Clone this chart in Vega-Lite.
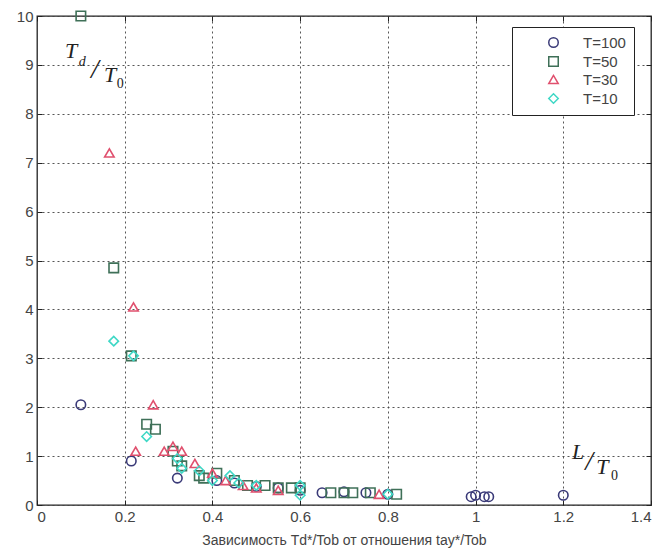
{
  "$schema": "https://vega.github.io/schema/vega-lite/v6.json",
  "width": 614,
  "height": 489,
  "autosize": "none",
  "padding": {"left": 37, "top": 16, "right": 8, "bottom": 48},
  "background": "white",
  "config": {
    "view": {"stroke": "#222", "strokeWidth": 1.3},
    "axis": {
      "gridColor": "#444",
      "gridDash": [2, 3],
      "gridOpacity": 0.9,
      "gridWidth": 1,
      "domain": false,
      "tickColor": "#222",
      "tickSize": -5,
      "labelColor": "#444",
      "labelFont": "Liberation Sans",
      "labelFontSize": 15,
      "titleFont": "Liberation Sans",
      "titleFontSize": 14,
      "titleFontWeight": "normal",
      "titleColor": "#444"
    },
    "legend": {
      "orient": "none", "legendX": 475, "legendY": 11, "padding": 8, "strokeColor": "#222", "fillColor": "white",
      "symbolOffset": 26, "labelOffset": 22, "rowPadding": 2, "symbolSize": 90, "symbolStrokeWidth": 1.5,
      "labelFont": "Liberation Sans", "labelFontSize": 15, "labelColor": "#444", "labelLimit": 200, "symbolFillColor": "transparent"
    }
  },
  "datasets": {
    "pts": [
      {"series": "T=100", "x": 0.10, "y": 2.05},
      {"series": "T=100", "x": 0.215, "y": 0.9},
      {"series": "T=100", "x": 0.32, "y": 0.55},
      {"series": "T=100", "x": 0.41, "y": 0.5},
      {"series": "T=100", "x": 0.45, "y": 0.45},
      {"series": "T=100", "x": 0.5, "y": 0.38},
      {"series": "T=100", "x": 0.55, "y": 0.35},
      {"series": "T=100", "x": 0.6, "y": 0.3},
      {"series": "T=100", "x": 0.65, "y": 0.25},
      {"series": "T=100", "x": 0.70, "y": 0.27},
      {"series": "T=100", "x": 0.75, "y": 0.25},
      {"series": "T=100", "x": 0.80, "y": 0.22},
      {"series": "T=100", "x": 0.99, "y": 0.17},
      {"series": "T=100", "x": 1.0, "y": 0.2},
      {"series": "T=100", "x": 1.02, "y": 0.17},
      {"series": "T=100", "x": 1.03, "y": 0.17},
      {"series": "T=100", "x": 1.2, "y": 0.2},
      {"series": "T=50", "x": 0.10, "y": 10.0},
      {"series": "T=50", "x": 0.175, "y": 4.85},
      {"series": "T=50", "x": 0.215, "y": 3.05},
      {"series": "T=50", "x": 0.25, "y": 1.65},
      {"series": "T=50", "x": 0.27, "y": 1.55},
      {"series": "T=50", "x": 0.31, "y": 1.1},
      {"series": "T=50", "x": 0.32, "y": 0.9},
      {"series": "T=50", "x": 0.33, "y": 0.8},
      {"series": "T=50", "x": 0.37, "y": 0.6},
      {"series": "T=50", "x": 0.38, "y": 0.55},
      {"series": "T=50", "x": 0.41, "y": 0.65},
      {"series": "T=50", "x": 0.45, "y": 0.5},
      {"series": "T=50", "x": 0.48, "y": 0.4},
      {"series": "T=50", "x": 0.52, "y": 0.4},
      {"series": "T=50", "x": 0.55, "y": 0.35},
      {"series": "T=50", "x": 0.58, "y": 0.35},
      {"series": "T=50", "x": 0.6, "y": 0.35},
      {"series": "T=50", "x": 0.67, "y": 0.25},
      {"series": "T=50", "x": 0.70, "y": 0.25},
      {"series": "T=50", "x": 0.72, "y": 0.25},
      {"series": "T=50", "x": 0.76, "y": 0.25},
      {"series": "T=50", "x": 0.82, "y": 0.22},
      {"series": "T=30", "x": 0.165, "y": 7.2},
      {"series": "T=30", "x": 0.22, "y": 4.05},
      {"series": "T=30", "x": 0.225, "y": 1.1},
      {"series": "T=30", "x": 0.265, "y": 2.05},
      {"series": "T=30", "x": 0.29, "y": 1.1},
      {"series": "T=30", "x": 0.31, "y": 1.2},
      {"series": "T=30", "x": 0.33, "y": 1.1},
      {"series": "T=30", "x": 0.36, "y": 0.85},
      {"series": "T=30", "x": 0.40, "y": 0.65},
      {"series": "T=30", "x": 0.43, "y": 0.5},
      {"series": "T=30", "x": 0.47, "y": 0.4},
      {"series": "T=30", "x": 0.50, "y": 0.35},
      {"series": "T=30", "x": 0.55, "y": 0.3},
      {"series": "T=30", "x": 0.78, "y": 0.22},
      {"series": "T=10", "x": 0.175, "y": 3.35},
      {"series": "T=10", "x": 0.22, "y": 3.05},
      {"series": "T=10", "x": 0.25, "y": 1.4},
      {"series": "T=10", "x": 0.32, "y": 0.95},
      {"series": "T=10", "x": 0.33, "y": 0.75},
      {"series": "T=10", "x": 0.37, "y": 0.7},
      {"series": "T=10", "x": 0.40, "y": 0.5},
      {"series": "T=10", "x": 0.44, "y": 0.6},
      {"series": "T=10", "x": 0.46, "y": 0.45},
      {"series": "T=10", "x": 0.5, "y": 0.4},
      {"series": "T=10", "x": 0.6, "y": 0.2},
      {"series": "T=10", "x": 0.6, "y": 0.4},
      {"series": "T=10", "x": 0.8, "y": 0.22}
    ]
  },
  "resolve": {"axis": {"x": "independent", "y": "independent"}},
  "layer": [
    {
      "data": {"name": "pts"},
      "mark": {"type": "point", "filled": false, "strokeWidth": 1.6, "size": 90, "opacity": 1},
      "encoding": {
        "x": {"field": "x", "type": "quantitative",
          "scale": {"domain": [0, 1.4], "nice": false, "zero": false},
          "axis": {"values": [0, 0.2, 0.4, 0.6, 0.8, 1, 1.2, 1.4], "format": "~g", "title": "Зависимость Td*/Tob от отношения tay*/Tob", "labelPadding": 9, "titlePadding": 9}},
        "y": {"field": "y", "type": "quantitative",
          "scale": {"domain": [0, 10], "nice": false},
          "axis": {"values": [0, 1, 2, 3, 4, 5, 6, 7, 8, 9, 10], "title": null, "labelPadding": 9}},
        "shape": {"field": "series", "type": "nominal",
          "scale": {"domain": ["T=100", "T=50", "T=30", "T=10"], "range": ["circle", "square", "triangle-up", "diamond"]},
          "legend": {"title": null}},
        "color": {"field": "series", "type": "nominal",
          "scale": {"domain": ["T=100", "T=50", "T=30", "T=10"], "range": ["#3a3a78", "#3f7058", "#e0506e", "#3fd8c6"]},
          "legend": {"title": null}}
      }
    },
    {
      "data": {"name": "pts"},
      "mark": {"type": "point", "opacity": 0},
      "encoding": {
        "x": {"field": "x", "type": "quantitative",
          "axis": {"orient": "top", "values": [0, 0.2, 0.4, 0.6, 0.8, 1, 1.2, 1.4], "labels": false, "grid": false, "title": null}},
        "y": {"field": "y", "type": "quantitative",
          "axis": {"orient": "right", "values": [0, 1, 2, 3, 4, 5, 6, 7, 8, 9, 10], "labels": false, "grid": false, "title": null}}
      }
    },
    {"data": {"values": [{}]}, "mark": {"type": "text", "text": "T", "font": "Liberation Serif", "fontStyle": "italic", "fontSize": 22, "color": "#222"}, "encoding": {"x": {"datum": 0.078, "type": "quantitative", "axis": null}, "y": {"datum": 9.28, "type": "quantitative", "axis": null}}},
    {"data": {"values": [{}]}, "mark": {"type": "text", "text": "d", "font": "Liberation Serif", "fontStyle": "italic", "fontSize": 14, "color": "#222"}, "encoding": {"x": {"datum": 0.103, "type": "quantitative", "axis": null}, "y": {"datum": 9.05, "type": "quantitative", "axis": null}}},
    {"data": {"values": [{}]}, "mark": {"type": "text", "text": "/", "font": "Liberation Serif", "fontStyle": "italic", "fontSize": 28, "color": "#222"}, "encoding": {"x": {"datum": 0.132, "type": "quantitative", "axis": null}, "y": {"datum": 8.9, "type": "quantitative", "axis": null}}},
    {"data": {"values": [{}]}, "mark": {"type": "text", "text": "T", "font": "Liberation Serif", "fontStyle": "italic", "fontSize": 22, "color": "#222"}, "encoding": {"x": {"datum": 0.167, "type": "quantitative", "axis": null}, "y": {"datum": 8.79, "type": "quantitative", "axis": null}}},
    {"data": {"values": [{}]}, "mark": {"type": "text", "text": "0", "font": "Liberation Serif", "fontSize": 14, "color": "#222"}, "encoding": {"x": {"datum": 0.19, "type": "quantitative", "axis": null}, "y": {"datum": 8.6, "type": "quantitative", "axis": null}}},
    {"data": {"values": [{}]}, "mark": {"type": "text", "text": "L", "font": "Liberation Serif", "fontStyle": "italic", "fontSize": 22, "color": "#222"}, "encoding": {"x": {"datum": 1.234, "type": "quantitative", "axis": null}, "y": {"datum": 1.09, "type": "quantitative", "axis": null}}},
    {"data": {"values": [{}]}, "mark": {"type": "text", "text": "/", "font": "Liberation Serif", "fontStyle": "italic", "fontSize": 28, "color": "#222"}, "encoding": {"x": {"datum": 1.259, "type": "quantitative", "axis": null}, "y": {"datum": 0.88, "type": "quantitative", "axis": null}}},
    {"data": {"values": [{}]}, "mark": {"type": "text", "text": "T", "font": "Liberation Serif", "fontStyle": "italic", "fontSize": 22, "color": "#222"}, "encoding": {"x": {"datum": 1.289, "type": "quantitative", "axis": null}, "y": {"datum": 0.78, "type": "quantitative", "axis": null}}},
    {"data": {"values": [{}]}, "mark": {"type": "text", "text": "0", "font": "Liberation Serif", "fontSize": 14, "color": "#222"}, "encoding": {"x": {"datum": 1.317, "type": "quantitative", "axis": null}, "y": {"datum": 0.6, "type": "quantitative", "axis": null}}}
  ]
}
